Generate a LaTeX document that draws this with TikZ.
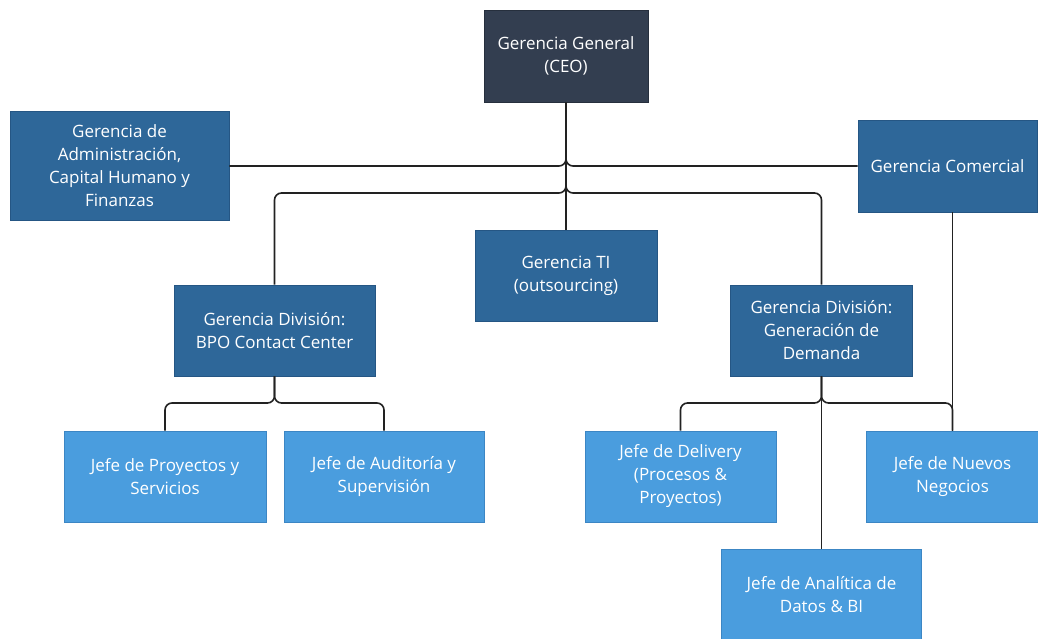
\documentclass[tikz,border=0pt]{standalone}
\usepackage{fontspec}
\setmainfont{Open Sans}
\usetikzlibrary{calc}
\definecolor{ceoblue}{HTML}{333E50}
\definecolor{ceoedge}{HTML}{262F3D}
\definecolor{midblue}{HTML}{2E6799}
\definecolor{midedge}{HTML}{255684}
\definecolor{lightblue}{HTML}{4A9DDE}
\definecolor{lightedge}{HTML}{3C86C4}
\definecolor{wire}{HTML}{222222}
\tikzset{
  box/.style={draw, line width=0.8pt, inner sep=0pt, align=center, text=white,
    font=\fontsize{17}{23}\selectfont},
  topbox/.style={box, fill=ceoblue, draw=ceoedge},
  midbox/.style={box, fill=midblue, draw=midedge},
  lowbox/.style={box, fill=lightblue, draw=lightedge},
  wirepath/.style={draw=wire, line width=1.6pt, rounded corners=7pt},
}
\begin{document}
\begin{tikzpicture}[x=1pt, y=-1pt]
  \useasboundingbox (0,0) rectangle (1038,639);

  % top level
  \node[topbox, minimum width=164pt, minimum height=92pt] (ceo) at (566,56) {Gerencia General\\(CEO)};

  % managers
  \node[midbox, minimum width=219pt, minimum height=109pt] (adm) at (119.5,166)
    {Gerencia de\\Administración,\\Capital Humano y\\Finanzas};
  \node[midbox, minimum width=179pt, minimum height=92pt] (com) at (947.5,166)
    {Gerencia Comercial};
  \node[midbox, minimum width=182pt, minimum height=91pt] (ti) at (566,276)
    {Gerencia TI\\(outsourcing)};
  \node[midbox, minimum width=201pt, minimum height=91pt] (bpo) at (274.5,330.5)
    {Gerencia División:\\BPO Contact Center};
  \node[midbox, minimum width=182pt, minimum height=91pt] (dem) at (821.5,330.5)
    {Gerencia División:\\Generación de\\Demanda};

  % team leads
  \node[lowbox, minimum width=202pt, minimum height=91pt] (pro) at (165,476.5)
    {Jefe de Proyectos y\\Servicios};
  \node[lowbox, minimum width=200pt, minimum height=91pt] (aud) at (384,476.5)
    {Jefe de Auditoría y\\Supervisión};
  \node[lowbox, minimum width=191pt, minimum height=91pt] (del) at (680.5,476.5)
    {Jefe de Delivery\\(Procesos \&\\Proyectos)};
  \node[lowbox, minimum width=172pt, minimum height=91pt] (neg) at (952.5,476.5)
    {Jefe de Nuevos\\Negocios};
  \node[lowbox, minimum width=200pt, minimum height=91pt] (ana) at (821.5,595)
    {Jefe de Analítica de\\Datos \& BI};

  % bus junctions
  \coordinate (busA) at (566,193);
  \coordinate (busB) at (274.5,403);
  \coordinate (busC) at (821.5,403);

  % connectors
  \draw[wirepath] (ceo.south) |- (adm.east);
  \draw[wirepath] (ceo.south) |- (com.west);
  \draw[wirepath] (ceo.south) -- (ti.north);
  \draw[wirepath] (ceo.south) -- (busA) -| (bpo.north);
  \draw[wirepath] (ceo.south) -- (busA) -| (dem.north);

  \draw[wirepath] (bpo.south) -- (busB) -| (pro.north);
  \draw[wirepath] (bpo.south) -- (busB) -| (aud.north);

  \draw[wirepath] (dem.south) -- (busC) -| (del.north);
  \draw[wirepath] (dem.south) -- (busC) -| (neg.north);
  \draw[wirepath] (dem.south) -- (ana.north);
  \draw[wirepath] (neg.north |- com.south) -- (neg.north);
\end{tikzpicture}
\end{document}
